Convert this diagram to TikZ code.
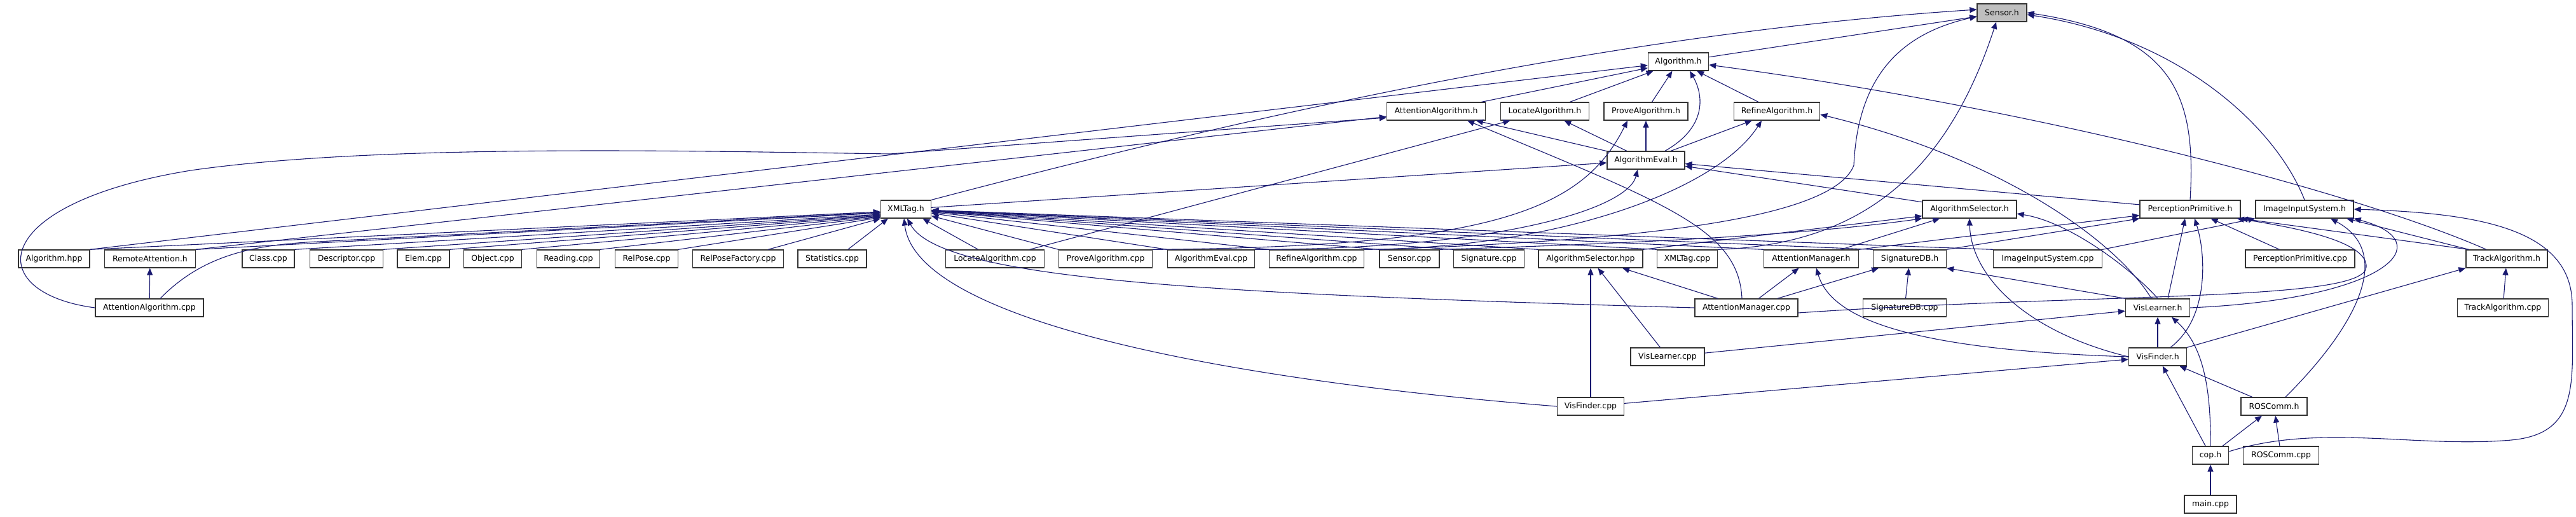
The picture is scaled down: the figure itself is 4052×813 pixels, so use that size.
\documentclass[tikz,border=0pt]{standalone}
\usepackage{fontspec}
\setmainfont{DejaVu Sans}
\usetikzlibrary{arrows.meta}
\definecolor{edgeblue}{HTML}{191970}
\definecolor{rootgray}{HTML}{BFBFBF}

\begin{document}
\begin{tikzpicture}[
    x=1pt, y=-1pt,
    % File boxes
    file/.style={rectangle, draw=black!80, fill=white, line width=1.3pt, minimum height=28pt, inner xsep=4pt, inner ysep=0pt, font=\fontsize{12.5}{14}\selectfont},
    rootfile/.style={file, fill=rootgray},
    % Include edges
    dep/.style={draw=edgeblue, line width=1.1pt, -{Triangle[length=11pt, width=9pt]}}
]
    \useasboundingbox (0,0) rectangle (4052,813);

    % Root
    \node[rootfile, minimum width=78pt] (sensorh) at (3149,20) {Sensor.h};

    % Headers
    \node[file, minimum width=95pt] (algh) at (2640,97) {Algorithm.h};
    \node[file, minimum width=155pt] (attalgh) at (2259,175) {AttentionAlgorithm.h};
    \node[file, minimum width=139pt] (localgh) at (2430,175) {LocateAlgorithm.h};
    \node[file, minimum width=132pt] (provealgh) at (2589,175) {ProveAlgorithm.h};
    \node[file, minimum width=135pt] (refinealgh) at (2795,175) {RefineAlgorithm.h};
    \node[file, minimum width=122pt] (algevalh) at (2589,252) {AlgorithmEval.h};
    \node[file, minimum width=79pt] (xmltagh) at (1425,329) {XMLTag.h};
    \node[file, minimum width=148pt] (algselh) at (3098,329) {AlgorithmSelector.h};
    \node[file, minimum width=158pt] (percprimh) at (3445,329) {PerceptionPrimitive.h};
    \node[file, minimum width=154pt] (imginh) at (3625,329) {ImageInputSystem.h};

    % Row of includers
    \node[file, minimum width=112pt] (alghpp) at (85,407) {Algorithm.hpp};
    \node[file, minimum width=143pt] (remoteatth) at (236,407) {RemoteAttention.h};
    \node[file, minimum width=82pt] (classcpp) at (422,407) {Class.cpp};
    \node[file, minimum width=115pt] (desccpp) at (545,407) {Descriptor.cpp};
    \node[file, minimum width=82pt] (elemcpp) at (666,407) {Elem.cpp};
    \node[file, minimum width=91pt] (objectcpp) at (775,407) {Object.cpp};
    \node[file, minimum width=99pt] (readingcpp) at (894,407) {Reading.cpp};
    \node[file, minimum width=99pt] (relposecpp) at (1017,407) {RelPose.cpp};
    \node[file, minimum width=143pt] (relposefactcpp) at (1161,407) {RelPoseFactory.cpp};
    \node[file, minimum width=108pt] (statcpp) at (1309,407) {Statistics.cpp};
    \node[file, minimum width=155pt] (locatecpp) at (1565,407) {LocateAlgorithm.cpp};
    \node[file, minimum width=147pt] (provecpp) at (1739,407) {ProveAlgorithm.cpp};
    \node[file, minimum width=137pt] (algevalcpp) at (1905,407) {AlgorithmEval.cpp};
    \node[file, minimum width=149pt] (refinecpp) at (2071,407) {RefineAlgorithm.cpp};
    \node[file, minimum width=94pt] (sensorcpp) at (2217,407) {Sensor.cpp};
    \node[file, minimum width=111pt] (signaturecpp) at (2342,407) {Signature.cpp};
    \node[file, minimum width=164pt] (algselhpp) at (2502,407) {AlgorithmSelector.hpp};
    \node[file, minimum width=95pt] (xmltagcpp) at (2654,407) {XMLTag.cpp};
    \node[file, minimum width=149pt] (attmgrh) at (2849,407) {AttentionManager.h};
    \node[file, minimum width=115pt] (sigdbh) at (3004,407) {SignatureDB.h};
    \node[file, minimum width=171pt] (imgincpp) at (3221,407) {ImageInputSystem.cpp};
    \node[file, minimum width=172pt] (percprimcpp) at (3618,407) {PerceptionPrimitive.cpp};
    \node[file, minimum width=128pt] (trackalgh) at (3943,407) {TrackAlgorithm.h};

    % Lower rows
    \node[file, minimum width=170pt] (attalgcpp) at (235,484) {AttentionAlgorithm.cpp};
    \node[file, minimum width=162pt] (attmgrcpp) at (2747,484) {AttentionManager.cpp};
    \node[file, minimum width=131pt] (sigdbcpp) at (2996,484) {SignatureDB.cpp};
    \node[file, minimum width=101pt] (vislearnerh) at (3394,484) {VisLearner.h};
    \node[file, minimum width=143pt] (trackalgcpp) at (3937,484) {TrackAlgorithm.cpp};
    \node[file, minimum width=116pt] (vislearnercpp) at (2623,561) {VisLearner.cpp};
    \node[file, minimum width=91pt] (visfinderh) at (3394,561) {VisFinder.h};
    \node[file, minimum width=105pt] (visfindercpp) at (2502,639) {VisFinder.cpp};
    \node[file, minimum width=104pt] (roscommh) at (3577,639) {ROSComm.h};
    \node[file, minimum width=57pt] (coph) at (3477,716) {cop.h};
    \node[file, minimum width=119pt] (roscommcpp) at (3588,716) {ROSComm.cpp};
    \node[file, minimum width=82pt] (maincpp) at (3477,793) {main.cpp};

    % Into Sensor.h
    \draw[dep] (algh) -- (sensorh);
    \draw[dep] (xmltagh.north east) .. controls (1900,200) and (2500,55) .. ([yshift=5pt]sensorh.west);
    \draw[dep] (sensorcpp.north west) .. controls (2500,380) and (2880,355) .. (2916,260) .. controls (2922,130) and (2980,55) .. ([yshift=-6pt]sensorh.west);
    \draw[dep] (xmltagcpp.north east) .. controls (2920,385) and (3060,280) .. ([xshift=-9pt]sensorh.south);
    \draw[dep] (percprimh.north) .. controls (3455,150) and (3420,55) .. (sensorh.east);
    \draw[dep] (imginh.north) .. controls (3580,200) and (3430,60) .. ([yshift=-3pt]sensorh.east);

    % Into Algorithm.h
    \draw[dep] (alghpp.north east) -- (algh);
    \draw[dep] (attalgh) -- (algh);
    \draw[dep] (localgh) -- (algh);
    \draw[dep] (provealgh) -- (algh);
    \draw[dep] (refinealgh) -- (algh);
    \draw[dep] ([xshift=30pt]algevalh.north) .. controls (2685,200) and (2680,150) .. ([xshift=18pt]algh.south);
    \draw[dep] ([xshift=-32pt]trackalgh.north) .. controls (3700,300) and (3200,170) .. ([yshift=-5pt]algh.east);

    % Into the algorithm headers
    \draw[dep] (algevalh) -- (attalgh);
    \draw[dep] (remoteatth.north east) -- (attalgh);
    \draw[dep] (attalgcpp.west) .. controls (-30,460) and (-20,320) .. (300,268) .. controls (600,225) and (1100,238) .. (1400,242) -- ([yshift=-10pt]attalgh.west);
    \draw[dep] ([xshift=-7pt]attmgrcpp.north) .. controls (2735,360) and (2620,320) .. ([xshift=49pt]attalgh.south);
    \draw[dep] (algevalh) -- (localgh);
    \draw[dep] (locatecpp) -- (localgh);
    \draw[dep] (algevalh) -- (provealgh);
    \draw[dep] (provecpp.north east) .. controls (2350,388) and (2490,330) .. ([xshift=-29pt]provealgh.south);
    \draw[dep] (algevalh) -- (refinealgh);
    \draw[dep] (refinecpp.north east) .. controls (2450,390) and (2700,300) .. ([xshift=-24pt]refinealgh.south);
    \draw[dep] ([xshift=-10pt]vislearnerh.north) .. controls (3330,380) and (3150,250) .. ([yshift=-5pt]refinealgh.east);

    % Into AlgorithmEval.h
    \draw[dep] (algevalcpp.north east) .. controls (2350,392) and (2560,330) .. ([xshift=-13pt]algevalh.south);
    \draw[dep] (xmltagh) -- (algevalh);
    \draw[dep] (algselh) -- (algevalh);
    \draw[dep] (percprimh) -- (algevalh);

    % Into XMLTag.h
    \draw[dep] (alghpp.north east) -- ([yshift=-4pt]xmltagh.west);
    \draw[dep] (remoteatth.north east) -- ([yshift=-6pt]xmltagh.west);
    \draw[dep] (classcpp.north east) -- ([yshift=-8pt]xmltagh.west);
    \draw[dep] (desccpp.north east) -- ([yshift=-9pt]xmltagh.west);
    \draw[dep] (elemcpp.north east) -- ([yshift=-10pt]xmltagh.west);
    \draw[dep] (objectcpp.north east) -- ([yshift=-11pt]xmltagh.west);
    \draw[dep] (readingcpp.north east) -- ([yshift=-12pt]xmltagh.west);
    \draw[dep] (relposecpp.north east) -- ([yshift=-13pt]xmltagh.west);
    \draw[dep] ([xshift=-25pt]relposefactcpp.north east) -- (xmltagh.south west);
    \draw[dep] ([xshift=-30pt]statcpp.north east) -- ([xshift=12pt]xmltagh.south west);
    \draw[dep] ([xshift=17pt]attalgcpp.north) .. controls (320,400) and (400,385) .. (500,380) -- ([yshift=-5pt]xmltagh.west);
    \draw[dep] (locatecpp) -- (xmltagh);
    \draw[dep] (provecpp.north west) -- (xmltagh);
    \draw[dep] (algevalcpp.north west) -- (xmltagh);
    \draw[dep] (refinecpp.north west) -- (xmltagh);
    \draw[dep] (sensorcpp.north west) -- (xmltagh);
    \draw[dep] (signaturecpp.north west) -- (xmltagh);
    \draw[dep] (algselhpp.north west) -- (xmltagh);
    \draw[dep] (xmltagcpp.north west) -- (xmltagh);
    \draw[dep] (attmgrh.north west) -- (xmltagh);
    \draw[dep] (sigdbh.north west) -- (xmltagh);
    \draw[dep] (imgincpp.north west) -- (xmltagh);
    \draw[dep] (attmgrcpp.west) .. controls (1900,462) and (1480,440) .. ([xshift=2pt]xmltagh.south);
    \draw[dep] (visfindercpp.west) .. controls (1900,595) and (1440,500) .. ([xshift=-3pt]xmltagh.south);

    % Into AlgorithmSelector.h
    \draw[dep] (algselhpp.north east) -- ([yshift=4pt]algselh.south west);
    \draw[dep] (sensorcpp.north east) .. controls (2600,382) and (2850,368) .. (algselh.south west);
    \draw[dep] (attmgrh) -- (algselh);
    \draw[dep] (visfinderh.west) .. controls (3180,520) and (3100,430) .. (algselh.south);
    \draw[dep] (vislearnerh.north) .. controls (3360,430) and (3260,350) .. ([yshift=-7pt]algselh.east);

    % Into PerceptionPrimitive.h
    \draw[dep] ([xshift=16pt]vislearnerh.north) -- ([xshift=-8pt]percprimh.south);
    \draw[dep] ([xshift=20pt]visfinderh.north) .. controls (3475,500) and (3470,400) .. ([xshift=7pt]percprimh.south);
    \draw[dep] (percprimcpp) -- (percprimh);
    \draw[dep] (attmgrh.north east) -- ([yshift=5pt]percprimh.south west);
    \draw[dep] (sigdbh.north east) -- (percprimh.south west);
    \draw[dep] ([xshift=5pt]trackalgh.north west) -- (percprimh.south east);
    \draw[dep] ([yshift=-8pt]attmgrcpp.east) .. controls (3300,460) and (3720,475) .. (3722,420) .. controls (3724,385) and (3640,362) .. ([xshift=-6pt]percprimh.south east);

    % Into ImageInputSystem.h
    \draw[dep] (imgincpp.north east) -- (imginh.south west);
    \draw[dep] ([xshift=5pt]trackalgh.north west) -- ([xshift=66pt]imginh.south);
    \draw[dep] (vislearnerh.east) .. controls (3760,470) and (3840,380) .. (imginh.south east);
    \draw[dep] ([xshift=18pt]roscommh.north) .. controls (3700,520) and (3770,400) .. ([xshift=41pt]imginh.south);
    \draw[dep] ([yshift=6pt]coph.east) .. controls (3650,665) and (3800,705) .. (3950,692) .. controls (4060,682) and (4046,600) .. (4046,480) .. controls (4046,360) and (3900,335) .. (imginh.east);

    % Into the other headers
    \draw[dep] (attalgcpp) -- (remoteatth);
    \draw[dep] (attmgrcpp) -- (attmgrh);
    \draw[dep] (visfinderh.west) .. controls (3000,550) and (2880,500) .. ([xshift=8pt]attmgrh.south);
    \draw[dep] (sigdbcpp) -- (sigdbh);
    \draw[dep] (attmgrcpp) -- (sigdbh);
    \draw[dep] (vislearnerh.north west) -- (sigdbh.south east);
    \draw[dep] (vislearnercpp) -- (algselhpp);
    \draw[dep] (visfindercpp) -- (algselhpp);
    \draw[dep] ([xshift=-45pt]attmgrcpp.north) -- ([xshift=50pt]algselhpp.south);
    \draw[dep] (vislearnercpp) -- (vislearnerh);
    \draw[dep] (visfinderh) -- (vislearnerh);
    \draw[dep] (coph.north) .. controls (3478,600) and (3462,540) .. ([xshift=22pt]vislearnerh.south);
    \draw[dep] (visfindercpp) -- (visfinderh);
    \draw[dep] (coph) -- (visfinderh);
    \draw[dep] (roscommh) -- (visfinderh);
    \draw[dep] (trackalgcpp) -- (trackalgh);
    \draw[dep] (visfinderh.north east) -- (trackalgh.south west);
    \draw[dep] (coph) -- (roscommh);
    \draw[dep] (roscommcpp) -- (roscommh);
    \draw[dep] (maincpp) -- (coph);
\end{tikzpicture}
\end{document}
